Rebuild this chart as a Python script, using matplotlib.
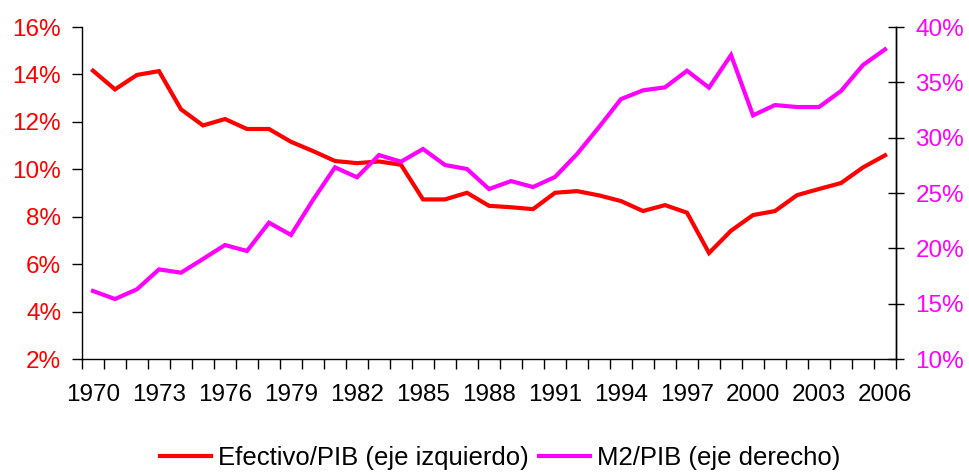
import numpy as np
import matplotlib
matplotlib.use('Agg')
import matplotlib.pyplot as plt
from matplotlib.ticker import FixedLocator, FuncFormatter

CRED = '#FF0000'
CMAG = '#FF00FF'

years = list(range(1970, 2007))

# Efectivo/PIB (%), eje izquierdo
efectivo = [14.16, 13.37, 13.98, 14.14, 12.53, 11.85, 12.12, 11.70, 11.70, 11.16,
            10.77, 10.35, 10.26, 10.33, 10.19, 8.73, 8.73, 9.01, 8.46, 8.40,
            8.32, 9.01, 9.08, 8.90, 8.66, 8.24, 8.49, 8.17, 6.47, 7.41,
            8.07, 8.24, 8.91, 9.17, 9.42, 10.08, 10.59]

# M2/PIB (%), eje derecho
m2 = [16.15, 15.42, 16.30, 18.10, 17.80, 19.04, 20.30, 19.76, 22.32, 21.21,
      24.37, 27.32, 26.42, 28.43, 27.83, 28.98, 27.53, 27.17, 25.36, 26.08,
      25.54, 26.45, 28.52, 30.96, 33.49, 34.28, 34.55, 36.05, 34.52, 37.47,
      32.02, 32.95, 32.77, 32.77, 34.22, 36.57, 37.98]

left_ticks = [2, 4, 6, 8, 10, 12, 14, 16]
right_ticks = [10, 15, 20, 25, 30, 35, 40]

plt.rcParams['font.family'] = ['Liberation Sans', 'DejaVu Sans']
plt.rcParams['xtick.labelsize'] = 17.5
plt.rcParams['ytick.labelsize'] = 17.5

fig = plt.figure(figsize=(9.69, 4.75), dpi=100)
ax = fig.add_axes([0.0846, 0.2442, 0.8401, 0.6989])
ax2 = ax.twinx()

x = np.arange(len(years))
l1, = ax.plot(x, efectivo, color=CRED, lw=3, solid_joinstyle='miter', zorder=3,
              label='Efectivo/PIB (eje izquierdo)')
l2, = ax2.plot(x, m2, color=CMAG, lw=3, solid_joinstyle='miter',
               label='M2/PIB (eje derecho)')

ax.set_xlim(-0.5, len(years) - 0.5)
ax.set_ylim(2, 16)
ax2.set_ylim(10, 40)

# left axis
ax.set_yticks(left_ticks)
ax.yaxis.set_major_formatter(FuncFormatter(lambda v, p: '%d%%' % v))
ax.tick_params(axis='y', direction='out', length=7, width=1, pad=8,
               labelsize=17.5, labelcolor=CRED, color='black')

# right axis
ax2.set_yticks(right_ticks)
ax2.yaxis.set_major_formatter(FuncFormatter(lambda v, p: '%d%%' % v))
ax2.tick_params(axis='y', direction='inout', length=12, width=1, pad=8,
                labelsize=17.5, labelcolor=CMAG, color='black')

# x axis: ticks between categories, labels every 3 years
ax.xaxis.set_major_locator(FixedLocator(np.arange(len(years) + 1) - 0.5))
ax.xaxis.set_major_formatter(FuncFormatter(lambda v, p: ''))
lab_pos = [i for i in range(len(years)) if i % 3 == 0]
ax.xaxis.set_minor_locator(FixedLocator(lab_pos))
ax.xaxis.set_minor_formatter(FuncFormatter(lambda v, p: str(years[int(round(v))])))
ax.tick_params(axis='x', which='major', direction='out', length=7, width=1)
ax.tick_params(axis='x', which='minor', length=0, pad=18, labelsize=17.5)

for a in (ax, ax2):
    a.spines['top'].set_visible(False)
    for s in ('left', 'bottom', 'right'):
        a.spines[s].set_linewidth(1)
        a.spines[s].set_color('black')
ax2.spines['left'].set_visible(False)
ax2.spines['bottom'].set_visible(False)

fig.legend(handles=[l1, l2], loc='lower center', bbox_to_anchor=(0.516, -0.012),
           ncol=2, frameon=False, fontsize=18.5, handlelength=2.0,
           handletextpad=0.25, columnspacing=0.4, borderaxespad=0.0)

fig.savefig('out.png', dpi=100)
